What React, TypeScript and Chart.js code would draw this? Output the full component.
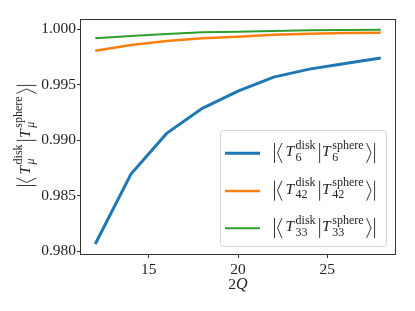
import React, { useEffect, useRef } from "react";
import { Chart, registerables } from "chart.js";
Chart.register(...registerables);

const xValues = [12, 14, 16, 18, 20, 22, 24, 26, 28];
const overlapT6 = [0.98066, 0.98695, 0.99061, 0.99286, 0.99441, 0.99567, 0.99639, 0.9969, 0.9974];
const overlapT42 = [0.99805, 0.99856, 0.99892, 0.99916, 0.99931, 0.99949, 0.99958, 0.99964, 0.99967];
const overlapT33 = [0.99916, 0.99937, 0.99955, 0.9997, 0.99976, 0.99982, 0.99988, 0.99991, 0.99993];
const xTicks = [15, 20, 25];
const yTicks = [0.98, 0.985, 0.99, 0.995, 1.0];
const seriesIndices = ["6", "42", "33"];
const seriesColors = ["#1f77b4", "#ff7f0e", "#2ca02c"];
const seriesWidths = [3, 2.5, 2];

const SERIF = "'Liberation Serif', 'DejaVu Serif', serif";
const INK = "#222";

function drawBraket(ctx: CanvasRenderingContext2D, x0: number, b: number, idx: string, idxItalic: boolean) {
  ctx.save();
  ctx.fillStyle = INK;
  ctx.strokeStyle = INK;
  ctx.lineWidth = 0.9;
  ctx.textBaseline = "alphabetic";
  ctx.textAlign = "left";
  const bar = (x: number) => {
    ctx.beginPath();
    ctx.moveTo(x, b - 13);
    ctx.lineTo(x, b + 7);
    ctx.stroke();
  };
  const mainFont = `italic 15.5px ${SERIF}`;
  const supFont = `12px ${SERIF}`;
  const subFont = idxItalic ? `italic 12px ${SERIF}` : `12px ${SERIF}`;
  const term = (x: number, sup: string) => {
    ctx.font = mainFont;
    ctx.fillText("T", x, b);
    const wT = ctx.measureText("T").width;
    const sx = x + wT + 1.5;
    ctx.font = supFont;
    ctx.fillText(sup, sx, b - 7.5);
    const wSup = ctx.measureText(sup).width;
    ctx.font = subFont;
    ctx.fillText(idx, sx, b + 4.5);
    const wSub = ctx.measureText(idx).width;
    return sx + Math.max(wSup, wSub);
  };
  let x = x0;
  bar(x + 0.5);
  ctx.beginPath();
  ctx.moveTo(x + 8, b - 13);
  ctx.lineTo(x + 3.5, b - 3);
  ctx.lineTo(x + 8, b + 7);
  ctx.stroke();
  x = term(x + 11.5, "disk");
  x += 4;
  bar(x);
  x = term(x + 2.5, "sphere");
  x += 3;
  ctx.beginPath();
  ctx.moveTo(x, b - 13);
  ctx.lineTo(x + 4.5, b - 3);
  ctx.lineTo(x, b + 7);
  ctx.stroke();
  x += 8;
  bar(x);
  ctx.restore();
  return x - x0;
}

const decorPlugin = {
  id: "decor",
  afterDatasetsDraw(chart: any) {
    const ctx: CanvasRenderingContext2D = chart.ctx;
    const a = chart.chartArea;
    ctx.save();
    ctx.strokeStyle = "#333";
    ctx.lineWidth = 1;
    ctx.strokeRect(Math.round(a.left) - 0.5, Math.round(a.top) - 0.5, Math.round(a.right - a.left) + 1, Math.round(a.bottom - a.top) + 1);
    ctx.restore();
  },
  afterDraw(chart: any) {
    const ctx: CanvasRenderingContext2D = chart.ctx;
    // legend box
    ctx.save();
    const lx = 220.5, ly = 130.5, lw = 166, lh = 116, r = 3;
    ctx.beginPath();
    ctx.moveTo(lx + r, ly);
    ctx.arcTo(lx + lw, ly, lx + lw, ly + lh, r);
    ctx.arcTo(lx + lw, ly + lh, lx, ly + lh, r);
    ctx.arcTo(lx, ly + lh, lx, ly, r);
    ctx.arcTo(lx, ly, lx + lw, ly, r);
    ctx.closePath();
    ctx.fillStyle = "rgba(255,255,255,0.8)";
    ctx.fill();
    ctx.strokeStyle = "#d4d4d4";
    ctx.lineWidth = 1;
    ctx.stroke();
    const rowY = [153.3, 191, 228.3];
    chart.data.datasets.forEach((ds: any, i: number) => {
      ctx.beginPath();
      ctx.strokeStyle = ds.borderColor;
      ctx.lineWidth = ds.borderWidth;
      ctx.moveTo(225, rowY[i]);
      ctx.lineTo(260, rowY[i]);
      ctx.stroke();
      drawBraket(ctx, 274, rowY[i] + 2.7, seriesIndices[i], false);
    });
    ctx.restore();

    // y axis label (rotated)
    ctx.save();
    ctx.translate(29.5, 186);
    ctx.rotate(-Math.PI / 2);
    drawBraket(ctx, 0, 0, "μ", true);
    ctx.restore();

    // x axis label "2Q"
    ctx.save();
    ctx.fillStyle = INK;
    ctx.textBaseline = "alphabetic";
    ctx.font = `15.5px ${SERIF}`;
    const w2 = ctx.measureText("2").width;
    ctx.font = `italic 16px ${SERIF}`;
    const wQ = ctx.measureText("Q").width;
    const start = 238 - (w2 + wQ) / 2;
    ctx.font = `15.5px ${SERIF}`;
    ctx.fillText("2", start, 289);
    ctx.font = `italic 16px ${SERIF}`;
    ctx.fillText("Q", start + w2, 289);
    ctx.restore();
  },
};

export default function App() {
  const ref = useRef<HTMLCanvasElement>(null);
  useEffect(() => {
    document.body.style.margin = "0";
    const series = [overlapT6, overlapT42, overlapT33];
    const chart = new Chart(ref.current!, {
      type: "line",
      data: {
        datasets: series.map((s, i) => ({
          label: "T" + seriesIndices[i],
          data: xValues.map((x, j) => ({ x, y: s[j] })),
          borderColor: seriesColors[i],
          backgroundColor: seriesColors[i],
          borderWidth: seriesWidths[i],
          pointRadius: 0,
          tension: 0,
          fill: false,
        })),
      },
      options: {
        animation: false,
        responsive: false,
        devicePixelRatio: 1,
        layout: { padding: { top: 20, right: 20, left: 0, bottom: 0 } },
        plugins: { legend: { display: false }, tooltip: { enabled: false } },
        scales: {
          x: {
            type: "linear",
            min: 11.2,
            max: 28.8,
            afterBuildTicks: (s: any) => {
              s.ticks = xTicks.map((v) => ({ value: v }));
            },
            afterFit: (s: any) => {
              s.height = 57;
            },
            ticks: {
              autoSkip: false,
              maxRotation: 0,
              padding: 3,
              color: INK,
              font: { family: SERIF, size: 15.5 },
              callback: (v: any) => String(v),
            },
            grid: { drawOnChartArea: false, drawTicks: true, tickLength: 4, color: "#333", lineWidth: 1 },
            border: { display: false },
          },
          y: {
            type: "linear",
            min: 0.97976,
            max: 1.00081,
            afterBuildTicks: (s: any) => {
              s.ticks = yTicks.map((v) => ({ value: v }));
            },
            afterFit: (s: any) => {
              s.width = 81;
            },
            ticks: {
              autoSkip: false,
              padding: 1,
              color: INK,
              font: { family: SERIF, size: 15.5 },
              callback: (v: any) => Number(v).toFixed(3),
            },
            grid: { drawOnChartArea: false, drawTicks: true, tickLength: 4, color: "#333", lineWidth: 1 },
            border: { display: false },
          },
        },
      },
      plugins: [decorPlugin],
    });
    return () => chart.destroy();
  }, []);
  return <canvas ref={ref} width={415} height={311} />;
}
